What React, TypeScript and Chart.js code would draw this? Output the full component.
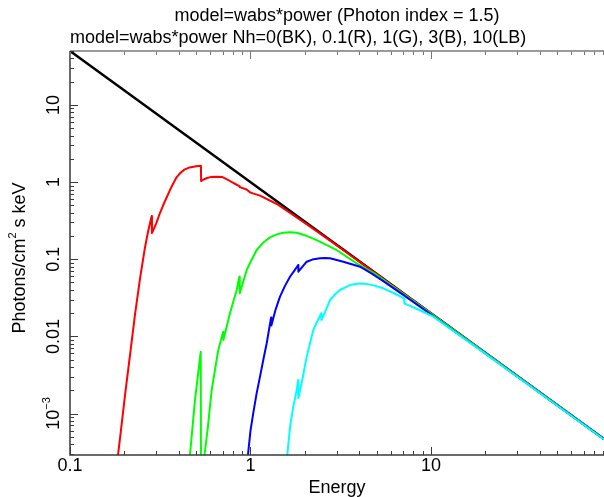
import React, { useEffect, useRef } from 'react';
import { Chart, registerables } from 'chart.js';

Chart.register(...registerables);

// ---- text ----
const TITLE_1 = 'model=wabs*power (Photon index = 1.5)';
const TITLE_2 = 'model=wabs*power Nh=0(BK), 0.1(R), 1(G), 3(B), 10(LB)';
const X_TITLE = 'Energy';
const Y_TITLE_PARTS = ['Photons/cm', '2', ' s keV'];

// ---- axes ----
const X_MIN = 0.1;
const X_MAX = 90.9;
const Y_MIN = 2.9e-4;
const Y_MAX = 50;
const X_TICK_VALUES = [0.1, 1, 10];
const X_TICK_LABELS = ['0.1', '1', '10'];
const Y_TICK_VALUES = [1e-3, 0.01, 0.1, 1, 10];
const Y_TICK_LABELS = [['10', '\u22123'], ['0.01'], ['0.1'], ['1'], ['10']];

// ---- data ----
// Nh = 0 (black)
const blackE = [0.1, 90.9];
const blackY = [50, 4.68e-4];

// Nh = 0.1 (red)
const redE = [0.1845, 0.1916, 0.2018, 0.215, 0.229, 0.2445, 0.26, 0.2704, 0.2835, 0.2845, 0.3, 0.315, 0.335, 0.358, 0.375, 0.39, 0.41, 0.43, 0.46, 0.5, 0.5315, 0.5325, 0.55, 0.575, 0.6, 0.65, 0.7, 0.75, 0.8, 0.867, 0.872, 0.95, 1.0, 1.129, 1.4, 1.72, 2.2, 2.76, 3.5, 5.0, 10, 30, 90.9];
const redY = [2.9e-4, 6.1e-4, 1.74e-3, 5.7e-3, 0.019, 0.057, 0.14, 0.225, 0.363, 0.218, 0.29, 0.397, 0.56, 0.788, 0.98, 1.16, 1.32, 1.45, 1.55, 1.6, 1.63, 1.03, 1.08, 1.13, 1.16, 1.17, 1.16, 1.07, 0.98, 0.885, 0.86, 0.8, 0.73, 0.668, 0.52, 0.375, 0.253, 0.174, 0.117, 0.064, 0.0199, 3.08e-3, 4.68e-4];

// Nh = 1 (green)
const greenE = [0.462, 0.4927, 0.53, 0.5325, 0.556, 0.58, 0.6095, 0.663, 0.706, 0.708, 0.77, 0.839, 0.867, 0.872, 0.953, 1.0, 1.082, 1.18, 1.282, 1.4, 1.52, 1.65, 1.803, 2.0, 2.327, 2.65, 3.0, 3.875, 5.0, 10, 30, 90.9];
const greenY = [2.9e-4, 1.5e-3, 6.3e-3, 5e-5, 2.9e-4, 6.5e-4, 2.02e-3, 6.67e-3, 0.0115, 8.98e-3, 0.0201, 0.0399, 0.0593, 0.0362, 0.0725, 0.092, 0.1316, 0.165, 0.192, 0.21, 0.2205, 0.224, 0.2205, 0.205, 0.177, 0.152, 0.1316, 0.0885, 0.0625, 0.0197, 3.06e-3, 4.67e-4];

// Nh = 3 (blue)
const blueE = [0.968, 1.0, 1.036, 1.08, 1.129, 1.18, 1.23, 1.3, 1.305, 1.38, 1.457, 1.55, 1.655, 1.75, 1.838, 1.842, 2.048, 2.2, 2.427, 2.6, 2.76, 3.268, 4.045, 4.7, 5.44, 7.02, 10, 20, 90.9];
const blueY = [2.9e-4, 6e-4, 1.01e-3, 1.8e-3, 3.01e-3, 5.1e-3, 8.14e-3, 0.0175, 0.0138, 0.0226, 0.0327, 0.0448, 0.0593, 0.0713, 0.0841, 0.0689, 0.0928, 0.099, 0.1027, 0.104, 0.1027, 0.0928, 0.08, 0.065, 0.052, 0.0345, 0.0192, 6.0e-3, 4.66e-4];

// Nh = 10 (light blue)
const cyanE = [1.599, 1.66, 1.727, 1.803, 1.838, 1.842, 1.95, 2.048, 2.228, 2.35, 2.468, 2.472, 2.6, 2.76, 2.95, 3.13, 3.558, 3.9, 4.217, 4.7, 5.44, 6.2, 7.1, 7.12, 8.5, 10.3, 17.9, 90.9];
const cyanY = [2.9e-4, 7e-4, 1.23e-3, 2.02e-3, 2.72e-3, 1.59e-3, 2.98e-3, 5.46e-3, 0.0121, 0.0158, 0.0199, 0.0163, 0.0213, 0.0296, 0.0354, 0.0399, 0.0463, 0.0482, 0.0485, 0.0465, 0.042, 0.0365, 0.0311, 0.0268, 0.0223, 0.018, 7.2e-3, 4.6e-4];

const FONT = "'Liberation Sans', Arial, Helvetica, sans-serif";
const FS = 18;

function pts(xs: number[], ys: number[]) {
  return xs.map((x, i) => ({ x, y: ys[i] }));
}

const axesPlugin = {
  id: 'customAxes',
  afterDraw(chart: any) {
    const { ctx, chartArea: a, scales } = chart;
    const xs = scales.x;
    const ys = scales.y;
    ctx.save();

    // axis lines
    ctx.strokeStyle = '#9a9a9a';
    ctx.lineWidth = 2;
    ctx.beginPath();
    ctx.moveTo(a.left, a.top);
    ctx.lineTo(a.right, a.top);
    ctx.stroke();

    ctx.strokeStyle = '#3a3a3a';
    ctx.lineWidth = 1.5;
    ctx.beginPath();
    ctx.moveTo(a.left, a.top);
    ctx.lineTo(a.left, a.bottom);
    ctx.lineTo(a.right, a.bottom);
    ctx.stroke();

    // ticks
    ctx.lineWidth = 1;
    for (let d = -1; d <= 1; d++) {
      for (let m = 1; m <= 9; m++) {
        const v = m * Math.pow(10, d);
        if (v < X_MIN || v > X_MAX) continue;
        const px = Math.round(xs.getPixelForValue(v)) + 0.5;
        const len = m === 1 ? 8 : 4;
        ctx.strokeStyle = '#3a3a3a';
        ctx.beginPath();
        ctx.moveTo(px, a.bottom);
        ctx.lineTo(px, a.bottom - len);
        ctx.stroke();
        ctx.strokeStyle = '#7a7a7a';
        ctx.beginPath();
        ctx.moveTo(px, a.top);
        ctx.lineTo(px, a.top + len);
        ctx.stroke();
      }
    }
    ctx.strokeStyle = '#3a3a3a';
    for (let d = -4; d <= 1; d++) {
      for (let m = 1; m <= 9; m++) {
        const v = m * Math.pow(10, d);
        if (v < Y_MIN || v > Y_MAX) continue;
        const py = Math.round(ys.getPixelForValue(v)) + 0.5;
        const len = m === 1 ? 8 : 4;
        ctx.beginPath();
        ctx.moveTo(a.left, py);
        ctx.lineTo(a.left + len, py);
        ctx.stroke();
      }
    }

    ctx.fillStyle = '#000';
    // x tick labels
    ctx.font = `${FS}px ${FONT}`;
    ctx.textAlign = 'center';
    ctx.textBaseline = 'top';
    X_TICK_VALUES.forEach((v, i) => {
      ctx.fillText(X_TICK_LABELS[i], xs.getPixelForValue(v), a.bottom + 2);
    });
    // x title
    ctx.textBaseline = 'alphabetic';
    ctx.fillText(X_TITLE, (a.left + a.right) / 2, 493);

    // rotated text helper (parts: normal, superscript, normal...)
    const drawRot = (parts: string[], cx: number, cy: number, size: number) => {
      ctx.save();
      ctx.translate(cx, cy);
      ctx.rotate(-Math.PI / 2);
      ctx.textAlign = 'left';
      ctx.textBaseline = 'middle';
      const supSize = Math.round(size * 0.62);
      const widths = parts.map((p, i) => {
        ctx.font = `${i % 2 === 1 ? supSize : size}px ${FONT}`;
        return ctx.measureText(p).width;
      });
      const total = widths.reduce((s, w) => s + w, 0);
      let x0 = -total / 2;
      parts.forEach((p, i) => {
        const sup = i % 2 === 1;
        ctx.font = `${sup ? supSize : size}px ${FONT}`;
        ctx.fillText(p, x0, sup ? -size * 0.38 : 0);
        x0 += widths[i];
      });
      ctx.restore();
    };

    Y_TICK_VALUES.forEach((v, i) => {
      drawRot(Y_TICK_LABELS[i], 54, ys.getPixelForValue(v), FS);
    });
    drawRot(Y_TITLE_PARTS, 20, 258, FS);

    // titles
    ctx.font = `${FS}px ${FONT}`;
    ctx.textBaseline = 'alphabetic';
    ctx.textAlign = 'center';
    ctx.fillText(TITLE_1, (a.left + a.right) / 2, 21);
    ctx.textAlign = 'left';
    ctx.fillText(TITLE_2, a.left, 43);

    ctx.restore();
  },
};

export default function App() {
  const ref = useRef<HTMLCanvasElement | null>(null);
  useEffect(() => {
    if (!ref.current) return;
    const line = (data: any[], color: string, width: number) => ({
      data,
      borderColor: color,
      backgroundColor: color,
      borderWidth: width,
      pointRadius: 0,
      showLine: true,
      fill: false,
      tension: 0,
      borderJoinStyle: 'round',
    });
    const chart = new Chart(ref.current, {
      type: 'scatter',
      data: {
        datasets: [
          line(pts(cyanE, cyanY), '#00ffff', 2),
          line(pts(blueE, blueY), '#0000ff', 2),
          line(pts(greenE, greenY), '#00ff00', 2),
          line(pts(redE, redY), '#ff0000', 2),
          line(pts(blackE, blackY), '#000000', 2.5),
        ] as any,
      },
      options: {
        animation: false,
        responsive: false,
        devicePixelRatio: 1,
        layout: { padding: { top: 51, left: 0, right: 0, bottom: 0 } },
        plugins: {
          legend: { display: false },
          title: { display: false },
          tooltip: { enabled: false },
        },
        events: [],
        scales: {
          x: {
            type: 'logarithmic',
            min: X_MIN,
            max: X_MAX,
            grid: { display: false },
            border: { display: false },
            ticks: { display: false },
            afterFit: (s: any) => { s.height = 42; },
          },
          y: {
            type: 'logarithmic',
            min: Y_MIN,
            max: Y_MAX,
            grid: { display: false },
            border: { display: false },
            ticks: { display: false },
            afterFit: (s: any) => { s.width = 70; },
          },
        },
      },
      plugins: [axesPlugin],
    });
    return () => chart.destroy();
  }, []);
  return (
    <div style={{ position: 'fixed', left: 0, top: 0, width: 604, height: 497, background: '#fff' }}>
      <canvas ref={ref} width={604} height={497} style={{ display: 'block' }} />
    </div>
  );
}
